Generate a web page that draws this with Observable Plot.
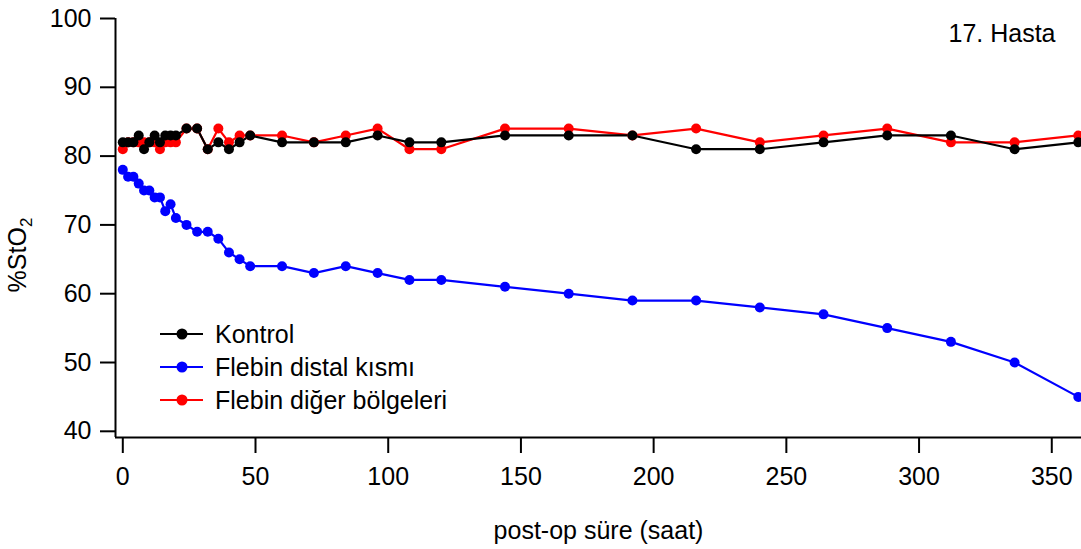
<!DOCTYPE html>
<html>
<head>
<meta charset="utf-8">
<script src="https://cdn.jsdelivr.net/npm/d3@7"></script>
<script src="https://cdn.jsdelivr.net/npm/@observablehq/plot@0.6"></script>
<style>
  html, body { margin: 0; padding: 0; background: #fff; }
  #chart { position: relative; width: 1081px; height: 549px; }
  svg { font-family: "Liberation Sans", Arial, sans-serif; }
</style>
</head>
<body>
<div id="chart"></div>
<script>
// ---- data ----
const hours = [0, 2, 4, 6, 8, 10, 12, 14, 16, 18, 20, 24, 28, 32, 36, 40, 44, 48,
  60, 72, 84, 96, 108, 120, 144, 168, 192, 216, 240, 264, 288, 312, 336, 360];
const kontrol = [82, 82, 82, 83, 81, 82, 83, 82, 83, 83, 83, 84, 84, 81, 82, 81, 82, 83,
  82, 82, 82, 83, 82, 82, 83, 83, 83, 81, 81, 82, 83, 83, 81, 82];
const distal = [78, 77, 77, 76, 75, 75, 74, 74, 72, 73, 71, 70, 69, 69, 68, 66, 65, 64,
  64, 63, 64, 63, 62, 62, 61, 60, 59, 59, 58, 57, 55, 53, 50, 45];
const diger = [81, 82, 82, 82, 82, 82, 82, 81, 82, 82, 82, 84, 84, 81, 84, 82, 83, 83,
  83, 82, 83, 84, 81, 81, 84, 84, 83, 84, 82, 83, 84, 82, 82, 83];
const seriesNames = ["Kontrol", "Flebin distal kısmı", "Flebin diğer bölgeleri"];
const seriesColors = ["#000000", "#0000ff", "#ff0000"];
const xTicks = [0, 50, 100, 150, 200, 250, 300, 350];
const yTicks = [40, 50, 60, 70, 80, 90, 100];
const xDomain = [-2.75, 361.2];
const yDomain = [39.1, 100];
const xTitle = "post-op süre (saat)";
const yTitleMain = "%StO";
const yTitleSub = "2";
const panelLabel = "17. Hasta";

// ---- table ----
const seriesValues = [kontrol, distal, diger];
const rows = [];
// draw order: red, blue, black (black on top)
[2, 1, 0].forEach(si => {
  hours.forEach((h, i) => rows.push({hour: h, value: seriesValues[si][i], series: seriesNames[si]}));
});

const FS = 25;
const chart = Plot.plot({
  width: 1081,
  height: 549,
  marginLeft: 115,
  marginRight: 0,
  marginTop: 18,
  marginBottom: 112,
  style: {fontFamily: "Liberation Sans, Arial, sans-serif", fontSize: FS + "px", color: "#000", background: "#fff"},
  x: {domain: xDomain},
  y: {domain: yDomain},
  color: {domain: seriesNames, range: seriesColors},
  marks: [
    Plot.axisX({ticks: xTicks, tickSize: 16, tickPadding: 14, strokeWidth: 2, fontSize: FS, label: null}),
    Plot.axisY({ticks: yTicks, tickSize: 15, tickPadding: 9, strokeWidth: 2, fontSize: FS, label: null}),
    Plot.ruleY([yDomain[0]], {x1: xDomain[0], x2: xDomain[1], strokeWidth: 2}),
    Plot.ruleX([xDomain[0]], {y1: yDomain[0], y2: yDomain[1], strokeWidth: 2}),
    Plot.line(rows, {x: "hour", y: "value", z: "series", stroke: "series", strokeWidth: 2.2}),
    Plot.dot(rows, {x: "hour", y: "value", fill: "series", r: 5}),
    Plot.text([xTitle], {frameAnchor: "bottom", dy: 93, textAnchor: "middle", lineAnchor: "middle", fontSize: FS}),
    Plot.text([panelLabel], {frameAnchor: "top-right", dx: -26, dy: 15, textAnchor: "end", lineAnchor: "middle", fontSize: FS})
  ]
});

const svg = d3.select(chart);
// y title with subscript
const yt = svg.append("text")
  .attr("transform", "translate(26,255) rotate(-90)")
  .attr("text-anchor", "middle")
  .attr("font-size", FS)
  .attr("fill", "#000");
yt.append("tspan").text(yTitleMain);
yt.append("tspan").attr("dy", "0.35em").attr("font-size", 17).text(yTitleSub);

// legend
const legendRowsY = [334, 367, 400];
const lg = svg.append("g").attr("text-anchor", "start");
seriesNames.forEach((name, i) => {
  const g = lg.append("g").attr("transform", `translate(0,${legendRowsY[i]})`);
  g.append("line").attr("x1", 160).attr("x2", 203).attr("y1", 0).attr("y2", 0)
    .attr("stroke", seriesColors[i]).attr("stroke-width", 2.2);
  g.append("circle").attr("cx", 182).attr("cy", 0).attr("r", 5.5).attr("fill", seriesColors[i]);
  g.append("text").attr("x", 215).attr("y", 0).attr("dy", "0.35em")
    .attr("text-anchor", "start")
    .attr("font-size", FS).attr("fill", "#000").text(name);
});

document.getElementById("chart").appendChild(chart);
</script>
</body>
</html>
